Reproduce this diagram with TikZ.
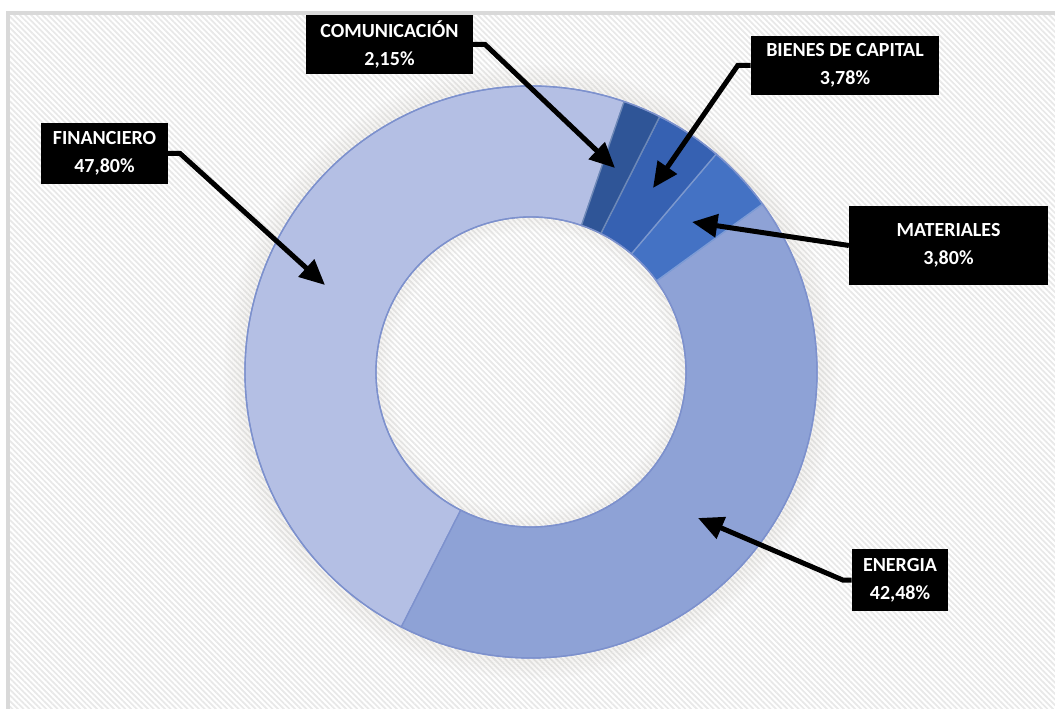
\documentclass[tikz,border=0pt]{standalone}
\usepackage{fontspec}
\setmainfont{Carlito}
\usetikzlibrary{arrows.meta, patterns.meta}
\definecolor{fincol}{RGB}{180,191,228}
\definecolor{enecol}{RGB}{142,162,214}
\definecolor{comcol}{RGB}{47,85,151}
\definecolor{bienescol}{RGB}{54,97,178}
\definecolor{matcol}{RGB}{68,114,196}
\definecolor{ringedge}{RGB}{125,145,205}
\definecolor{framegray}{gray}{0.85}
\definecolor{glowcol}{RGB}{150,140,120}

\begin{document}
\begin{tikzpicture}[
    x=0.75pt, y=0.75pt,
    every node/.style={font=\fontsize{15}{21}\selectfont\bfseries, align=center, text=white},
    tag/.style={fill=black, inner sep=0pt, minimum height=44pt},
    arrow/.style={-{Triangle[length=19pt, width=17pt]}, line width=3.75pt, draw=black},
    glow/.style={draw=glowcol, line width=1.6pt}
]
\useasboundingbox (0,0) rectangle (1055,708);
% background and frame
\fill[white] (0,0) rectangle (1055,708);
\fill[pattern={Lines[angle=-45, distance=3pt, line width=1.3pt]}, pattern color=black!9] (8,0) rectangle (1055,695);
\draw[framegray, line width=2.5pt] (8,-5) -- (8,695) -- (1060,695);
% donut ring
\begin{scope}[shift={(531,336)}]
  \foreach \i [evaluate=\i as \op using 0.10-0.009*\i] in {1,...,10}
    \draw[glow, opacity=\op] (0,0) circle[radius=286+\i*2];
  \foreach \a/\b/\c/\e in {-116.956/-289.036/fincol/ringedge,
                           35.972/-116.956/enecol/ringedge,
                           49.652/35.972/matcol/matcol!70!white,
                           63.26/49.652/bienescol/bienescol!65!white,
                           71/63.26/comcol/comcol!70!white}
    \filldraw[fill=\c, draw=\e, line width=1pt]
      (\a:286) arc[start angle=\a, end angle=\b, radius=286]
      -- (\b:155) arc[start angle=\b, end angle=\a, radius=155] -- cycle;
  \draw[ringedge, line width=1pt] (0,0) circle[radius=286];
  \draw[ringedge, line width=1pt] (0,0) circle[radius=155];
  \foreach \i [evaluate=\i as \op using 0.09-0.012*\i] in {1,...,7}
    \draw[glow, opacity=\op] (0,0) circle[radius=155-\i*2];
\end{scope}
% labels
\node[tag, minimum width=125pt] (comtag)    at (389.5,663.5) {COMUNICACIÓN\\2,15\%};
\node[tag, minimum width=141pt] (bienestag) at (845,642.5)   {BIENES DE CAPITAL\\3,78\%};
\node[tag, minimum width=95pt, minimum height=46pt] (fintag) at (104.5,554.5) {FINANCIERO\\47,80\%};
\node[tag, minimum width=149pt, minimum height=59pt] (mattag) at (948.5,462.5) {MATERIALES\\3,80\%};
\node[tag, minimum width=72pt, minimum height=46.5pt] (enetag) at (900,128) {ENERGIA\\42,48\%};
% arrow targets on the ring
\coordinate (compt)    at (615,540);
\coordinate (bienespt) at (653,520);
\coordinate (finpt)    at (325,423);
\coordinate (matpt)    at (692,486);
\coordinate (enept)    at (698,190);
% leader arrows
\draw[arrow] (comtag.east)    -- ++(12,0)  -- (compt);
\draw[arrow] (bienestag.west) -- ++(-13,0) -- (bienespt);
\draw[arrow] (fintag.east)    -- ++(12,0)  -- (finpt);
\draw[arrow] (mattag.west)    -- (matpt);
\draw[arrow] (enetag.west)    -- ++(-9,0)  -- (enept);
\end{tikzpicture}
\end{document}
